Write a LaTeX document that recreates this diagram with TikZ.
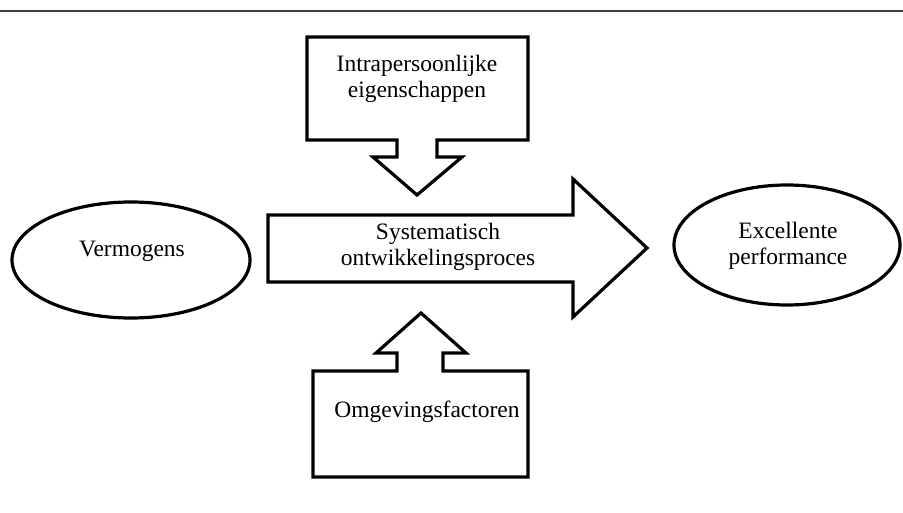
\documentclass[tikz,border=0pt]{standalone}
\usepackage{fontspec}
\setmainfont{Liberation Serif}
\usetikzlibrary{shapes.geometric}
\tikzset{
  outline/.style={draw=black, line width=3.2pt, line join=miter, fill=white},
  label/.style={align=center, font=\fontsize{23.5}{26.5}\selectfont, inner sep=0pt},
  blob/.style={outline, ellipse, inner sep=0pt}
}
\begin{document}
\begin{tikzpicture}[x=1pt, y=-1pt]
      \useasboundingbox (0,0) rectangle (903,513);
      \draw[line width=2.6pt, black!75] (0,11) -- (903,11); % rule at the top
      % box with arrow down
      \draw[outline] (307,37) -- (528,37) -- (528,140) -- (437,140) -- (437,157) -- (462,157)
        -- (417,195) -- (373,157) -- (397,157) -- (397,140) -- (307,140) -- cycle;
      % main arrow
      \draw[outline] (268,215) -- (573,215) -- (573,179) -- (647,248) -- (573,317)
        -- (573,282) -- (268,282) -- cycle;
      % box with arrow up
      \draw[outline] (313,371) -- (397,371) -- (397,353) -- (376,353) -- (421,313) -- (466,353)
        -- (443,353) -- (443,371) -- (528,371) -- (528,477) -- (313,477) -- cycle;
      \node[blob, minimum width=238pt, minimum height=116pt] (verm) at (131,260) {}; % left
      \node[blob, minimum width=226pt, minimum height=120pt] (perf) at (787,245) {}; % right
      \node[label] (vermtxt) at (132,251) {Vermogens};
      \node[label] (perftxt) at (788,246) {Excellente\\performance};
      \node[label] (intra) at (417,79) {Intrapersoonlijke\\eigenschappen};
      \node[label] (proces) at (438,247) {Systematisch\\ontwikkelingsproces};
      \node[label] (omg) at (427,412) {Omgevingsfactoren};
    \end{tikzpicture}
\end{document}
